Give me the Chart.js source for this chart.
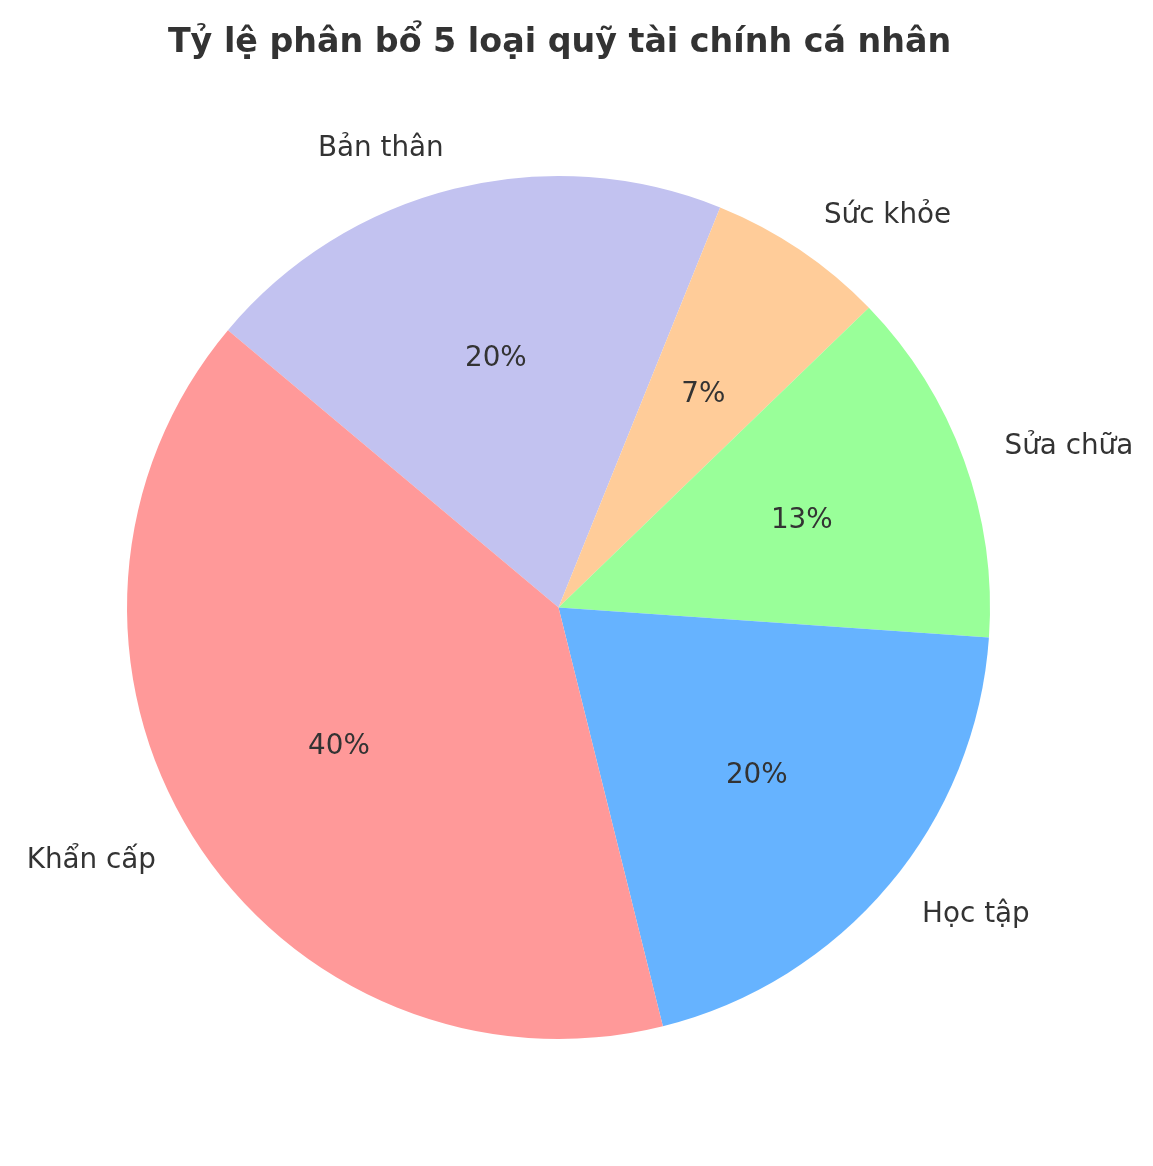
<!DOCTYPE html>
<html>
<head>
<meta charset="utf-8">
<script src="https://cdn.jsdelivr.net/npm/chart.js@4"></script>
<style>
  html, body { margin: 0; padding: 0; background: #fff; }
  canvas { display: block; }
</style>
</head>
<body>
<canvas id="chart" width="1153" height="1166"></canvas>
<script>
// data, in the order matplotlib drew it (counter-clockwise from 140 deg)
const categories = ["Khẩn cấp", "Học tập", "Sửa chữa", "Sức khỏe", "Bản thân"];
const amounts = [30, 15, 10, 5, 15];
const colors = ["#ff9999", "#66b3ff", "#99ff99", "#ffcc99", "#c2c2f0"];
const title = "Tỷ lệ phân bổ 5 loại quỹ tài chính cá nhân";

// chart.js goes clockwise, so flip the order
const labels = categories.slice().reverse();
const values = amounts.slice().reverse();
const bg = colors.slice().reverse();
const total = amounts.reduce((a, b) => a + b, 0);

const textColor = "#333333";
const fontFamily = "'DejaVu Sans', sans-serif";

const pieText = {
    id: "pieText",
    beforeDraw(chart) {
        const ctx = chart.ctx;
        ctx.save();
        ctx.fillStyle = "#ffffff";
        ctx.fillRect(0, 0, chart.width, chart.height);
        ctx.restore();
    },
    afterDraw(chart) {
        const ctx = chart.ctx;
        const arcs = chart.getDatasetMeta(0).data;
        ctx.save();
        ctx.fillStyle = textColor;

        // title
        ctx.font = "bold 33.3px " + fontFamily;
        ctx.textAlign = "center";
        ctx.textBaseline = "alphabetic";
        ctx.fillText(title, arcs[0].x + 1, 52);

        ctx.font = "27.8px " + fontFamily;
        arcs.forEach((arc, i) => {
            const mid = (arc.startAngle + arc.endAngle) / 2;
            const r = arc.outerRadius;
            const cos = Math.cos(mid), sin = Math.sin(mid);

            // category label at 1.1 r
            ctx.textBaseline = "middle";
            ctx.textAlign = cos >= 0 ? "left" : "right";
            ctx.fillText(labels[i], arc.x + cos * r * 1.1, arc.y + sin * r * 1.1 + 2);

            // percentage at 0.6 r
            ctx.textAlign = "center";
            const pct = Math.round(values[i] / total * 100) + "%";
            ctx.fillText(pct, arc.x + cos * r * 0.6, arc.y + sin * r * 0.6 + 2);
        });
        ctx.restore();
    }
};

new Chart(document.getElementById("chart").getContext("2d"), {
    type: "pie",
    data: {
        labels: labels,
        datasets: [{
            data: values,
            backgroundColor: bg,
            borderWidth: 0
        }]
    },
    options: {
        responsive: false,
        animation: false,
        devicePixelRatio: 1,
        rotation: -50,
        layout: {
            padding: { left: 127, right: 163, top: 176, bottom: 127 }
        },
        plugins: {
            legend: { display: false },
            tooltip: { enabled: false }
        }
    },
    plugins: [pieText]
});
</script>
</body>
</html>
